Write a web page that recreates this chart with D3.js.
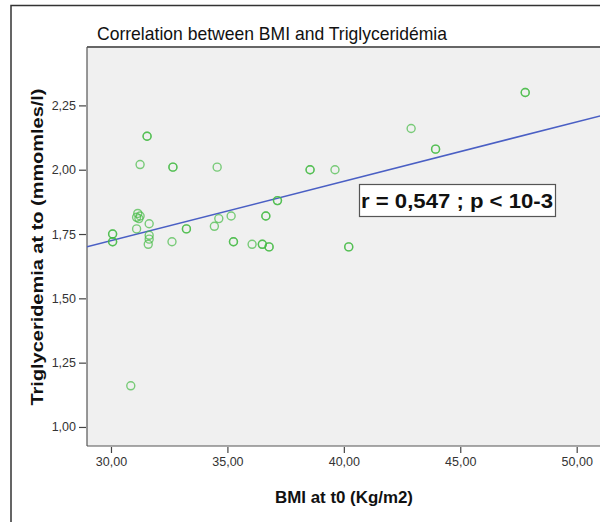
<!DOCTYPE html>
<html>
<head>
<meta charset="utf-8">
<script src="https://cdn.jsdelivr.net/npm/d3@7"></script>
<style>
  body { margin: 0; background: #fff; }
  text { font-family: Arial, "Liberation Sans", sans-serif; }
</style>
</head>
<body>
<div id="chart"></div>
<script>
// BMI at t0 (Kg/m2) - bold circles in the picture are two overlapping cases
var bmi = [31.55, 31.55, 31.25, 32.66, 32.66, 34.56, 37.15, 37.15,
    31.15, 31.25, 31.1, 31.2, 31.64, 31.1, 30.07, 30.07, 30.07, 30.07,
    31.64, 31.64, 31.6, 32.62, 33.24, 33.24, 34.63, 35.16, 34.44,
    35.26, 35.26, 36.06, 36.5, 36.5, 36.79, 36.79, 36.65, 36.65,
    38.55, 38.55, 39.62, 40.21, 40.21, 42.89, 43.94, 43.94, 47.79, 47.79, 30.85];
// Triglyceridemia at t0 (mmol/l)
var tg = [2.13, 2.13, 2.02, 2.01, 2.01, 2.01, 1.88, 1.88,
    1.83, 1.82, 1.815, 1.81, 1.79, 1.77, 1.75, 1.75, 1.72, 1.72,
    1.745, 1.73, 1.71, 1.72, 1.77, 1.77, 1.81, 1.82, 1.78,
    1.72, 1.72, 1.71, 1.71, 1.71, 1.70, 1.70, 1.82, 1.82,
    2.00, 2.00, 2.00, 1.70, 1.70, 2.16, 2.08, 2.08, 2.30, 2.30, 1.16];

var xTicks = [30, 35, 40, 45, 50];
var yTicks = [1.00, 1.25, 1.50, 1.75, 2.00, 2.25];

// fit line
var intercept = 1.031, slope = 0.0231;
var annotation = "r = 0,547 ; p < 10-3";

var W = 600, H = 522;
var margin = {top: 47, right: -3, bottom: 76, left: 87};
var width = W - margin.left - margin.right,
    height = H - margin.top - margin.bottom;

var svg = d3.select("#chart").append("svg")
    .attr("width", W)
    .attr("height", H);

// outer frame
svg.append("rect")
    .attr("x", 11).attr("y", 5.5)
    .attr("width", 620).attr("height", 540)
    .attr("fill", "#fff")
    .attr("stroke", "#333").attr("stroke-width", 1.5);

svg.append("text")
    .attr("x", 272).attr("y", 40)
    .attr("text-anchor", "middle")
    .attr("font-size", 19)
    .attr("fill", "#111")
    .attr("textLength", 350).attr("lengthAdjust", "spacingAndGlyphs")
    .text("Correlation between BMI and Triglyceridémia");

var g = svg.append("g")
    .attr("transform", "translate(" + margin.left + "," + margin.top + ")");

var x = d3.scaleLinear().domain([28.97, 51.13]).range([0, width]);
var y = d3.scaleLinear().domain([0.926, 2.477]).range([height, 0]);

var comma = function(d) { return d3.format(".2f")(d).replace(".", ","); };

g.append("rect")
    .attr("width", width).attr("height", height)
    .attr("fill", "#f0f0f0");

g.append("clipPath").attr("id", "clip")
    .append("rect").attr("width", width).attr("height", height);

// plot frame
g.append("line").attr("x1", 0).attr("x2", width).attr("y1", 0).attr("y2", 0)
    .attr("stroke", "#666").attr("stroke-width", 2);
g.append("line").attr("x1", 0).attr("x2", 0).attr("y1", 0).attr("y2", height)
    .attr("stroke", "#555").attr("stroke-width", 1.2);
g.append("line").attr("x1", 0).attr("x2", width).attr("y1", height).attr("y2", height)
    .attr("stroke", "#555").attr("stroke-width", 1.2);

var xAxis = g.append("g")
    .attr("transform", "translate(0," + (height + 1) + ")")
    .call(d3.axisBottom(x).tickValues(xTicks).tickFormat(comma).tickSize(6).tickPadding(4));
var yAxis = g.append("g")
    .attr("transform", "translate(-1,0)")
    .call(d3.axisLeft(y).tickValues(yTicks).tickFormat(comma).tickSize(7).tickPadding(3));

[xAxis, yAxis].forEach(function(a) {
    a.select(".domain").remove();
    a.selectAll("line").attr("stroke", "#444").attr("stroke-width", 1.2);
    a.selectAll("text").attr("font-size", 12.5).attr("fill", "#333")
        .attr("font-family", "Arial, 'Liberation Sans', sans-serif");
});

var inner = g.append("g").attr("clip-path", "url(#clip)");

inner.append("line")
    .attr("x1", x(28.97)).attr("y1", y(intercept + slope * 28.97))
    .attr("x2", x(51.13)).attr("y2", y(intercept + slope * 51.13))
    .attr("stroke", "#4a5fc4").attr("stroke-width", 1.5);

inner.selectAll(".dot")
    .data(d3.range(bmi.length))
    .enter().append("circle")
    .attr("class", "dot")
    .attr("cx", function(i) { return x(bmi[i]); })
    .attr("cy", function(i) { return y(tg[i]); })
    .attr("r", 4)
    .attr("fill", "none")
    .attr("stroke", "#44bb44")
    .attr("stroke-opacity", 0.7)
    .attr("stroke-width", 1.4);

// annotation box
svg.append("rect")
    .attr("x", 359.5).attr("y", 184.5)
    .attr("width", 196).attr("height", 32)
    .attr("fill", "#fff")
    .attr("stroke", "#555").attr("stroke-width", 1.2);
svg.append("text")
    .attr("x", 457).attr("y", 208)
    .attr("text-anchor", "middle")
    .attr("font-size", 21).attr("font-weight", "bold")
    .attr("fill", "#111")
    .attr("textLength", 192).attr("lengthAdjust", "spacingAndGlyphs")
    .text(annotation);

// axis titles
svg.append("text")
    .attr("x", 344).attr("y", 503)
    .attr("text-anchor", "middle")
    .attr("font-size", 16).attr("font-weight", "bold")
    .attr("fill", "#111")
    .attr("textLength", 138).attr("lengthAdjust", "spacingAndGlyphs")
    .text("BMI at t0 (Kg/m2)");

svg.append("text")
    .attr("transform", "translate(43,247) rotate(-90)")
    .attr("text-anchor", "middle")
    .attr("font-size", 17).attr("font-weight", "bold")
    .attr("fill", "#111")
    .attr("textLength", 317).attr("lengthAdjust", "spacingAndGlyphs")
    .text("Triglyceridemia at to (mmomles/l)");
</script>
</body>
</html>
